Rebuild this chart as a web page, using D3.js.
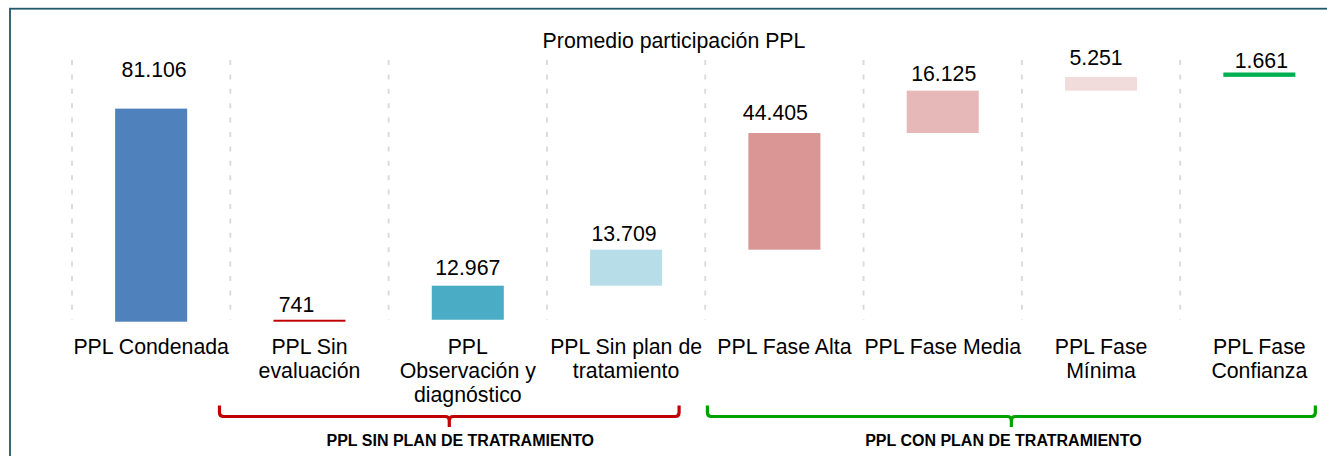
<!DOCTYPE html>
<html lang="es">
<head>
<meta charset="utf-8">
<script src="https://cdn.jsdelivr.net/npm/d3@7"></script>
<style>
  html, body { margin: 0; padding: 0; background: #ffffff; }
  svg { display: block; font-family: "Liberation Sans", Arial, sans-serif; }
</style>
</head>
<body>
<svg id="chart" width="1327" height="456"></svg>
<script>
// Categories of the waterfall, in drawing order
const categories = [
  "PPL Condenada",
  "PPL Sin evaluación",
  "PPL Observación y diagnóstico",
  "PPL Sin plan de tratamiento",
  "PPL Fase Alta",
  "PPL Fase Media",
  "PPL Fase Mínima",
  "PPL Fase Confianza"
];

// Axis label lines for each category
const tickLabelLines = [
  ["PPL Condenada"],
  ["PPL Sin", "evaluación"],
  ["PPL", "Observación y", "diagnóstico"],
  ["PPL Sin plan de", "tratamiento"],
  ["PPL Fase Alta"],
  ["PPL Fase Media"],
  ["PPL Fase", "Mínima"],
  ["PPL Fase", "Confianza"]
];

// Average number of PPL per category
const values = [81106, 741, 12967, 13709, 44405, 16125, 5251, 1661];

// The first bar is a total that starts at zero; the rest stack on each other
const isTotal = [true, false, false, false, false, false, false, false];

// Category groups shown with brackets under the axis
const groupLabels = ["PPL SIN PLAN DE TRATRAMIENTO", "PPL CON PLAN DE TRATRAMIENTO"];
const groupFirst = ["PPL Sin evaluación", "PPL Fase Alta"];
const groupLast = ["PPL Sin plan de tratamiento", "PPL Fase Confianza"];

const chartTitle = "Promedio participación PPL";

// ---- styling ----
const barColors = ["#4f81bd", "#c00000", "#4bacc6", "#b7dee8", "#d99694", "#e6b9b8", "#f2dcdb", "#00b050"];
const groupColors = ["#c00000", "#00a000"];
// Label nudges [dx, gap above bar top]
const labelNudge = [[3, 32], [-13, 8], [0, 11], [-2, 9], [-9, 13], [1, 10], [-5, 12], [2, 5]];
// Bracket extents relative to the first/last bar centres [left, right]
const bracketReach = [[-90, 53], [-77, 56]];
const groupLabelDx = [11, -8];

const svg = d3.select("#chart");
const fmt = d3.formatLocale({ decimal: ",", thousands: ".", grouping: [3], currency: ["$", ""] }).format(",d");

// Chart frame
svg.append("rect")
  .attr("x", 10).attr("y", 8.7)
  .attr("width", 1400).attr("height", 600)
  .attr("fill", "none")
  .attr("stroke", "#215968")
  .attr("stroke-width", 1.8);

const x = d3.scaleBand()
  .domain(categories)
  .range([72, 1338.5])
  .paddingInner(0.545)
  .paddingOuter(0.2725);

const y = d3.scaleLinear()
  .domain([0, 100000])
  .range([321.7, 59]);

// Waterfall extents
let running = 0;
const bars = categories.map((c, i) => {
  let y0, y1;
  if (isTotal[i]) { y0 = 0; y1 = values[i]; }
  else { y0 = running; y1 = running + values[i]; running = y1; }
  return { cat: c, value: values[i], y0, y1, i };
});

// Vertical dashed gridlines at category boundaries
const step = x.step();
const gridX = d3.range(categories.length + 1).map(i => x.range()[0] + i * step);
svg.append("g")
  .selectAll("line")
  .data(gridX)
  .join("line")
  .attr("x1", d => d).attr("x2", d => d)
  .attr("y1", y.range()[1] + 1).attr("y2", y(0) - 2)
  .attr("stroke", "#d9d9d9")
  .attr("stroke-width", 1.8)
  .attr("stroke-dasharray", "5,9.4");

// Title
svg.append("text")
  .attr("x", 674).attr("y", 48)
  .attr("text-anchor", "middle")
  .attr("font-size", 21.3)
  .attr("fill", "#000")
  .text(chartTitle);

// Bars
svg.append("g")
  .selectAll("rect")
  .data(bars)
  .join("rect")
  .attr("x", d => x(d.cat))
  .attr("width", x.bandwidth())
  .attr("y", d => y(d.y1))
  .attr("height", d => y(d.y0) - y(d.y1))
  .attr("fill", d => barColors[d.i]);

// Value labels
svg.append("g")
  .selectAll("text")
  .data(bars)
  .join("text")
  .attr("x", d => x(d.cat) + x.bandwidth() / 2 + labelNudge[d.i][0])
  .attr("y", d => y(d.y1) - labelNudge[d.i][1])
  .attr("text-anchor", "middle")
  .attr("font-size", 21.3)
  .attr("fill", "#000")
  .text(d => fmt(d.value));

// Category axis
const axis = svg.append("g")
  .attr("transform", `translate(0,${y(0)})`)
  .call(d3.axisBottom(x).tickSize(0).tickPadding(0));
axis.select(".domain").remove();
axis.selectAll(".tick text")
  .attr("font-size", 21.3)
  .attr("font-family", "Liberation Sans, Arial, sans-serif")
  .attr("fill", "#000")
  .attr("dy", null)
  .attr("y", null)
  .text(null)
  .each(function (d) {
    const lines = tickLabelLines[categories.indexOf(d)];
    const t = d3.select(this);
    lines.forEach((ln, k) => {
      t.append("tspan")
        .attr("x", 0)
        .attr("y", 32.5 + k * 24)
        .text(ln);
    });
  });

// Group brackets
const centre = c => x(c) + x.bandwidth() / 2;
groupLabels.forEach((lab, g) => {
  const L = centre(groupFirst[g]) + bracketReach[g][0];
  const R = centre(groupLast[g]) + bracketReach[g][1];
  const M = (L + R) / 2;
  const top = 405.5, mid = 416.5, tip = 427, r = 4;
  const p = d3.path();
  p.moveTo(L, top);
  p.lineTo(L, mid - r);
  p.quadraticCurveTo(L, mid, L + r, mid);
  p.lineTo(M - r, mid);
  p.quadraticCurveTo(M, mid, M, mid + r);
  p.lineTo(M, tip);
  p.moveTo(M, mid + r);
  p.quadraticCurveTo(M, mid, M + r, mid);
  p.lineTo(R - r, mid);
  p.quadraticCurveTo(R, mid, R, mid - r);
  p.lineTo(R, top);
  svg.append("path")
    .attr("d", p.toString())
    .attr("fill", "none")
    .attr("stroke", groupColors[g])
    .attr("stroke-width", 3.2)
    .attr("stroke-linejoin", "round");
  svg.append("text")
    .attr("x", M + groupLabelDx[g])
    .attr("y", 446)
    .attr("text-anchor", "middle")
    .attr("font-size", 16)
    .attr("font-weight", "bold")
    .attr("fill", "#000")
    .text(lab);
});
</script>
</body>
</html>
